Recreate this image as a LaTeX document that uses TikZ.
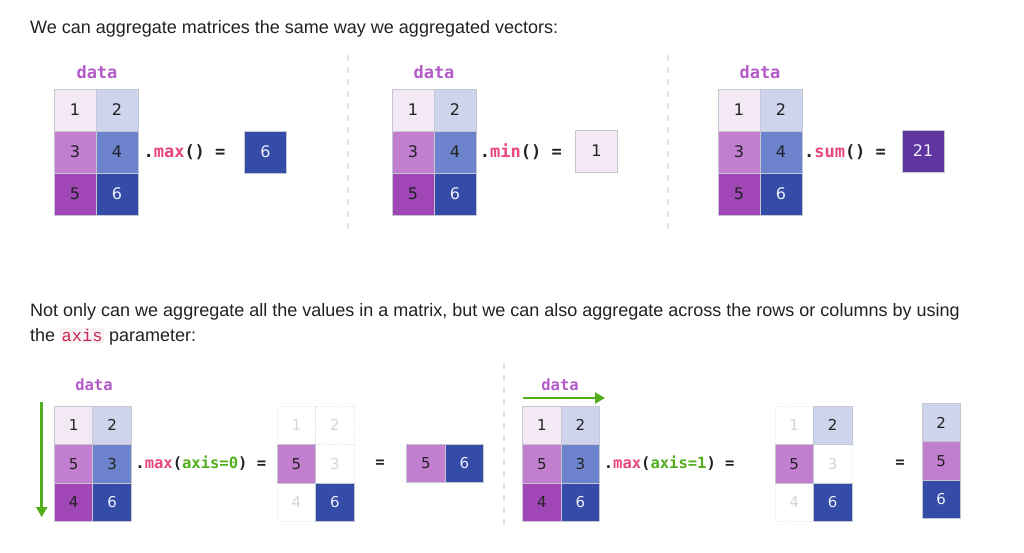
\documentclass[tikz,border=0pt]{standalone}
\usepackage{fontspec}
\setmainfont{Liberation Sans}
\setmonofont{Liberation Mono}
\newfontfamily\djs{DejaVu Sans}
\newfontfamily\djm{DejaVu Sans Mono}
\usetikzlibrary{arrows.meta}
\definecolor{cA}{HTML}{F3E9F5}
\definecolor{cB}{HTML}{CED4EC}
\definecolor{cC}{HTML}{C27ECF}
\definecolor{cD}{HTML}{6E83CE}
\definecolor{cE}{HTML}{A046B6}
\definecolor{cF}{HTML}{354BA8}
\definecolor{cS}{HTML}{5F35A0}
\definecolor{cellborder}{HTML}{C4C6D2}
\definecolor{fadeborder}{HTML}{E2E2E2}
\definecolor{fadetext}{HTML}{D6D6D6}
\definecolor{txt}{HTML}{222222}
\definecolor{ltxt}{HTML}{EEF0FA}
\definecolor{datac}{HTML}{B35BC9}
\definecolor{pinkc}{HTML}{E8467C}
\definecolor{greenc}{HTML}{53AE1C}
\definecolor{sepc}{HTML}{E4E4E4}
\definecolor{codec}{HTML}{C7254E}
\definecolor{codebg}{HTML}{F9F2F4}
\tikzset{
  cellT/.style={draw=cellborder, line width=0.8pt, minimum width=42pt, minimum height=42pt,
    inner sep=0pt, font=\djs\fontsize{16}{16}\selectfont, text=txt},
  cellB/.style={draw=cellborder, line width=0.8pt, minimum width=38.5pt, minimum height=38.5pt,
    inner sep=0pt, font=\djs\fontsize{15}{15}\selectfont, text=txt},
  fade/.style={fill=white, draw=fadeborder, dotted, text=fadetext},
  light/.style={text=ltxt},
  dataT/.style={font=\djm\bfseries\fontsize{17}{17}\selectfont, text=datac, inner sep=0pt},
  dataB/.style={font=\djm\bfseries\fontsize{15.5}{15.5}\selectfont, text=datac, inner sep=0pt},
  opT/.style={font=\djm\bfseries\fontsize{17}{17}\selectfont, text=txt, inner sep=0pt},
  opB/.style={font=\djm\bfseries\fontsize{15.5}{15.5}\selectfont, text=txt, inner sep=0pt},
  para/.style={font=\fontsize{18}{22}\selectfont, text=txt, anchor=base west, inner sep=0pt},
  sep/.style={draw=sepc, line width=1.2pt, dash pattern=on 6pt off 6pt},
  axarrow/.style={draw=greenc, line width=2.5pt, -{Triangle[length=10pt,width=11pt]}},
}
\newcommand\mtop[2]{%
  \node[cellT,fill=cA] (#1a) at (#2+21,110) {1};
  \node[cellT,fill=cB] (#1b) at (#2+63,110) {2};
  \node[cellT,fill=cC] (#1c) at (#2+21,152) {3};
  \node[cellT,fill=cD] (#1d) at (#2+63,152) {4};
  \node[cellT,fill=cE] (#1e) at (#2+21,194) {5};
  \node[cellT,fill=cF,light] (#1f) at (#2+63,194) {6};
}
\newcommand\mbot[2]{%
  \node[cellB,fill=cA] (#1a) at (#2+19.25,425.25) {1};
  \node[cellB,fill=cB] (#1b) at (#2+57.75,425.25) {2};
  \node[cellB,fill=cC] (#1c) at (#2+19.25,463.75) {5};
  \node[cellB,fill=cD] (#1d) at (#2+57.75,463.75) {3};
  \node[cellB,fill=cE] (#1e) at (#2+19.25,502.25) {4};
  \node[cellB,fill=cF,light] (#1f) at (#2+57.75,502.25) {6};
}
\begin{document}
\begin{tikzpicture}[x=1pt,y=-1pt]
\useasboundingbox[fill=white] (0,0) rectangle (1024,552);
% paragraphs
\node[para] (p1) at (30,33.5) {We can aggregate matrices the same way we aggregated vectors:};
\node[para] (p2) at (30,316) {Not only can we aggregate all the values in a matrix, but we can also aggregate across the rows or columns by using};
\node[para] (p3) at (30,341.7) {the {\setlength{\fboxsep}{1.5pt}\colorbox{codebg}{\ttfamily\fontsize{17}{17}\selectfont\color{codec}axis}} parameter:};
% separators
\coordinate (s1t) at (348,55); \coordinate (s1b) at (348,233);
\coordinate (s2t) at (668,55); \coordinate (s2b) at (668,233);
\coordinate (s3t) at (504,363); \coordinate (s3b) at (504,530);
\draw[sep] (s1t) -- (s1b);
\draw[sep] (s2t) -- (s2b);
\draw[sep] (s3t) -- (s3b);
% top: max
\node[dataT] (d1) at (97,71.7) {data};
\mtop{m}{54}
\node[opT] (o1) at (184.5,152) {.{\color{pinkc}max}() =};
\node[cellT,fill=cF,light] (r1) at (265.5,152) {6};
% top: min
\node[dataT] (d2) at (434,71.7) {data};
\mtop{n}{392}
\node[opT] (o2) at (520.8,152) {.{\color{pinkc}min}() =};
\node[cellT,fill=cA] (r2) at (596.5,151) {1};
% top: sum
\node[dataT] (d3) at (760,71.7) {data};
\mtop{s}{718}
\node[opT] (o3) at (845,152) {.{\color{pinkc}sum}() =};
\node[cellT,fill=cS,light] (r3) at (923,151) {21};
% bottom left: axis=0
\node[dataB] (d4) at (94,384.3) {data};
\mbot{a}{54.3}
\coordinate (a0s) at (41.7,401.7); \coordinate (a0e) at (41.7,517);
\draw[axarrow] (a0s) -- (a0e);
\node[opB] (o4) at (200.8,463.5) {.{\color{pinkc}max}({\color{greenc}axis=0}) =};
\node[cellB,fade] (fa) at (296.5,425.25) {1};
\node[cellB,fade] (fb) at (335,425.25) {2};
\node[cellB,fade] (fd) at (335,463.75) {3};
\node[cellB,fade] (fe) at (296.5,502.25) {4};
\node[cellB,fill=cC] (fc) at (296.5,463.75) {5};
\node[cellB,fill=cF,light] (ff) at (335,502.25) {6};
\node[opB] (e1) at (380,463.5) {=};
\node[cellB,fill=cC] (ra) at (426,463.5) {5};
\node[cellB,fill=cF,light] (rb) at (464.5,463.5) {6};
% bottom right: axis=1
\node[dataB] (d5) at (560,384.3) {data};
\coordinate (a1s) at (522.5,398); \coordinate (a1e) at (605,398);
\draw[axarrow] (a1s) -- (a1e);
\mbot{b}{522.7}
\node[opB] (o5) at (669.2,463.5) {.{\color{pinkc}max}({\color{greenc}axis=1}) =};
\node[cellB,fade] (ga) at (794.2,425.25) {1};
\node[cellB,fade] (gd) at (832.7,463.75) {3};
\node[cellB,fade] (ge) at (794.2,502.25) {4};
\node[cellB,fill=cB] (gb) at (832.7,425.25) {2};
\node[cellB,fill=cC] (gc) at (794.2,463.75) {5};
\node[cellB,fill=cF,light] (gf) at (832.7,502.25) {6};
\node[opB] (e2) at (900,463.5) {=};
\node[cellB,fill=cB] (sa) at (941.2,422.5) {2};
\node[cellB,fill=cC] (sb) at (941.2,461) {5};
\node[cellB,fill=cF,light] (sc) at (941.2,499.5) {6};
\end{tikzpicture}
\end{document}
